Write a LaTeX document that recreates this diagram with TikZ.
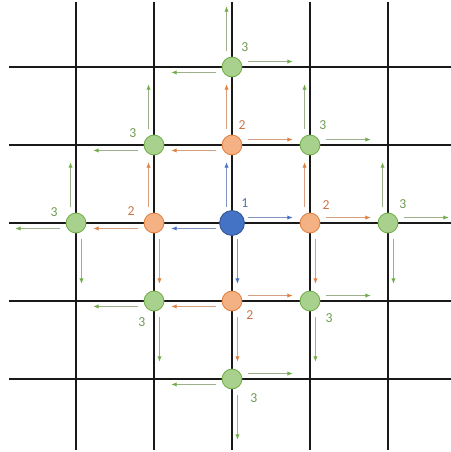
\documentclass[tikz,border=0pt]{standalone}
\usepackage{fontspec}
\setmainfont{Carlito}
\usepackage{tikz}
\usetikzlibrary{arrows.meta,calc}

\definecolor{bfill}{HTML}{4472C4}
\definecolor{bdraw}{HTML}{2F528F}
\definecolor{ofill}{HTML}{F4B183}
\definecolor{odraw}{HTML}{E0803F}
\definecolor{gfill}{HTML}{A9D18E}
\definecolor{gdraw}{HTML}{70AD47}
\definecolor{bline}{HTML}{7F95C0}
\definecolor{oline}{HTML}{D6A080}
\definecolor{gline}{HTML}{9DB08C}
\definecolor{btext}{HTML}{5470B0}
\definecolor{otext}{HTML}{C87548}
\definecolor{gtext}{HTML}{6E9A50}

\begin{document}
\begin{tikzpicture}[
grid/.style={line width=1.4pt,black!90},
start/.style={circle,fill=bfill,draw=bdraw,line width=0.6pt,minimum size=0.64cm,inner sep=0pt},
near/.style={circle,fill=ofill,draw=odraw,line width=0.6pt,minimum size=0.51cm,inner sep=0pt},
far/.style={circle,fill=gfill,draw=gdraw,line width=0.6pt,minimum size=0.51cm,inner sep=0pt},
lbl/.style={font=\fontsize{10}{12}\selectfont,inner sep=0pt},
barrow/.style={-{Latex[length=4pt,width=3.2pt,color=bfill]},line width=0.8pt,bline},
oarrow/.style={-{Latex[length=4pt,width=3.2pt,color=odraw]},line width=0.8pt,oline},
garrow/.style={-{Latex[length=4pt,width=3.2pt,color=gdraw]},line width=0.8pt,gline} ]

\useasboundingbox (-5.949,-5.872) rectangle (5.615,5.718);

% grid
\foreach \y in {-4,-2,0,2,4}
  \draw[grid] (-5.72,\y) -- (5.615,\y);
\foreach \x in {-4,-2,0,2,4}
  \draw[grid] (\x,5.67) -- (\x,-5.82);

\node[start](c) at (0,0) {};

\node[near](oT) at (0,2) {};
\node[near](oL) at (-2,0) {};
\node[near](oR) at (2,0) {};
\node[near](oB) at (0,-2) {};

\node[far](gT) at (0,4) {};
\node[far](gTL) at (-2,2) {};
\node[far](gTR) at (2,2) {};
\node[far](gL) at (-4,0) {};
\node[far](gR) at (4,0) {};
\node[far](gBL) at (-2,-2) {};
\node[far](gBR) at (2,-2) {};
\node[far](gB) at (0,-4) {};

\node[lbl,btext](l1) at ($(c)+(0.33,0.51)$) {1};

\node[lbl,otext](l2T) at ($(oT)+(0.26,0.51)$) {2};
\node[lbl,otext](l2L) at ($(oL)+(-0.59,0.31)$) {2};
\node[lbl,otext](l2R) at ($(oR)+(0.41,0.46)$) {2};
\node[lbl,otext](l2B) at ($(oB)+(0.46,-0.36)$) {2};

\node[lbl,gtext](l3T) at ($(gT)+(0.33,0.51)$) {3};
\node[lbl,gtext](l3TL) at ($(gTL)+(-0.54,0.31)$) {3};
\node[lbl,gtext](l3TR) at ($(gTR)+(0.33,0.51)$) {3};
\node[lbl,gtext](l3L) at ($(gL)+(-0.56,0.28)$) {3};
\node[lbl,gtext](l3R) at ($(gR)+(0.38,0.49)$) {3};
\node[lbl,gtext](l3BL) at ($(gBL)+(-0.31,-0.54)$) {3};
\node[lbl,gtext](l3BR) at ($(gBR)+(0.49,-0.44)$) {3};
\node[lbl,gtext](l3B) at ($(gB)+(0.56,-0.49)$) {3};

% step 1
\draw[barrow] (c.center) ++(0:0.4) ++(90:0.14) -- ++(0:1.16);
\draw[barrow] (c.center) ++(90:0.4) ++(180:0.14) -- ++(90:1.16);
\draw[barrow] (c.center) ++(180:0.4) ++(270:0.14) -- ++(180:1.16);
\draw[barrow] (c.center) ++(270:0.4) ++(0:0.14) -- ++(270:1.16);

% step 2
\draw[oarrow] (oT.center) ++(0:0.4) ++(90:0.14) -- ++(0:1.16);
\draw[oarrow] (oT.center) ++(90:0.4) ++(180:0.14) -- ++(90:1.16);
\draw[oarrow] (oT.center) ++(180:0.4) ++(270:0.14) -- ++(180:1.16);

\draw[oarrow] (oL.center) ++(90:0.4) ++(180:0.14) -- ++(90:1.16);
\draw[oarrow] (oL.center) ++(180:0.4) ++(270:0.14) -- ++(180:1.16);
\draw[oarrow] (oL.center) ++(270:0.4) ++(0:0.14) -- ++(270:1.16);

\draw[oarrow] (oR.center) ++(0:0.4) ++(90:0.14) -- ++(0:1.16);
\draw[oarrow] (oR.center) ++(90:0.4) ++(180:0.14) -- ++(90:1.16);
\draw[oarrow] (oR.center) ++(270:0.4) ++(0:0.14) -- ++(270:1.16);

\draw[oarrow] (oB.center) ++(0:0.4) ++(90:0.14) -- ++(0:1.16);
\draw[oarrow] (oB.center) ++(180:0.4) ++(270:0.14) -- ++(180:1.16);
\draw[oarrow] (oB.center) ++(270:0.4) ++(0:0.14) -- ++(270:1.16);

% step 3
\draw[garrow] (gT.center) ++(0:0.4) ++(90:0.14) -- ++(0:1.16);
\draw[garrow] (gT.center) ++(90:0.4) ++(180:0.14) -- ++(90:1.16);
\draw[garrow] (gT.center) ++(180:0.4) ++(270:0.14) -- ++(180:1.16);

\draw[garrow] (gTL.center) ++(90:0.4) ++(180:0.14) -- ++(90:1.16);
\draw[garrow] (gTL.center) ++(180:0.4) ++(270:0.14) -- ++(180:1.16);

\draw[garrow] (gTR.center) ++(0:0.4) ++(90:0.14) -- ++(0:1.16);
\draw[garrow] (gTR.center) ++(90:0.4) ++(180:0.14) -- ++(90:1.16);

\draw[garrow] (gL.center) ++(90:0.4) ++(180:0.14) -- ++(90:1.16);
\draw[garrow] (gL.center) ++(180:0.4) ++(270:0.14) -- ++(180:1.16);
\draw[garrow] (gL.center) ++(270:0.4) ++(0:0.14) -- ++(270:1.16);

\draw[garrow] (gR.center) ++(0:0.4) ++(90:0.14) -- ++(0:1.16);
\draw[garrow] (gR.center) ++(90:0.4) ++(180:0.14) -- ++(90:1.16);
\draw[garrow] (gR.center) ++(270:0.4) ++(0:0.14) -- ++(270:1.16);

\draw[garrow] (gBL.center) ++(180:0.4) ++(270:0.14) -- ++(180:1.16);
\draw[garrow] (gBL.center) ++(270:0.4) ++(0:0.14) -- ++(270:1.16);

\draw[garrow] (gBR.center) ++(0:0.4) ++(90:0.14) -- ++(0:1.16);
\draw[garrow] (gBR.center) ++(270:0.4) ++(0:0.14) -- ++(270:1.16);

\draw[garrow] (gB.center) ++(0:0.4) ++(90:0.14) -- ++(0:1.16);
\draw[garrow] (gB.center) ++(180:0.4) ++(270:0.14) -- ++(180:1.16);
\draw[garrow] (gB.center) ++(270:0.4) ++(0:0.14) -- ++(270:1.16);

\end{tikzpicture}
\end{document}
